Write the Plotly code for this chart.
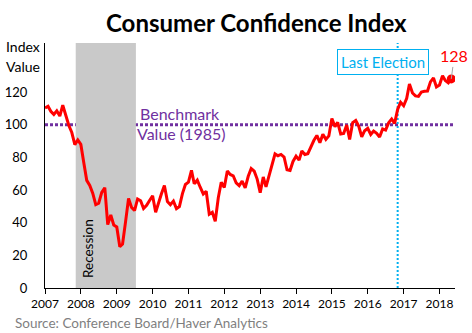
import plotly.graph_objects as go

# ---- data (Conference Board Consumer Confidence Index, monthly) ----
years = list(range(2007, 2019))
cci_2007 = [110.2, 111.2, 108.2, 106.3, 108.5, 105.3, 111.9, 105.6, 99.5, 95.2, 87.8, 90.6]
cci_2008 = [87.9, 76.4, 65.9, 62.8, 58.1, 51.0, 51.9, 58.5, 61.4, 38.8, 44.7, 38.6]
cci_2009 = [37.4, 25.3, 26.9, 40.8, 54.8, 49.3, 47.4, 54.5, 53.4, 48.7, 50.6, 53.6]
cci_2010 = [56.5, 46.4, 52.3, 57.7, 62.7, 52.9, 51.0, 53.2, 48.6, 49.9, 57.8, 63.4]
cci_2011 = [64.8, 72.0, 63.8, 66.0, 61.7, 57.6, 59.2, 45.2, 46.4, 40.9, 55.2, 64.8]
cci_2012 = [61.5, 71.6, 69.5, 68.7, 64.4, 62.7, 65.4, 61.3, 68.4, 73.1, 71.5, 66.7]
cci_2013 = [58.4, 68.0, 61.9, 69.0, 76.2, 82.1, 81.0, 81.8, 80.2, 72.4, 72.0, 77.5]
cci_2014 = [80.7, 78.3, 83.9, 81.7, 82.2, 86.4, 90.3, 93.4, 89.0, 94.1, 91.0, 93.1]
cci_2015 = [103.8, 98.8, 101.4, 94.3, 94.6, 99.8, 91.0, 101.3, 102.6, 99.1, 92.6, 96.3]
cci_2016 = [97.8, 94.0, 96.1, 94.7, 92.4, 97.4, 96.7, 101.1, 103.5, 100.8, 109.4, 113.7]
cci_2017 = [111.6, 116.1, 124.9, 119.4, 117.6, 117.3, 120.0, 120.4, 120.6, 126.2, 128.6, 123.1]
cci_2018 = [124.3, 130.0, 127.0, 125.6, 128.0]

yearly = [cci_2007, cci_2008, cci_2009, cci_2010, cci_2011, cci_2012,
          cci_2013, cci_2014, cci_2015, cci_2016, cci_2017, cci_2018]

dates = []
values = []
for yr, vals in zip(years, yearly):
    for m, v in enumerate(vals, start=1):
        dates.append(f"{yr}-{m:02d}-01")
        values.append(v)

benchmark = 100
recession_start = "2007-11-10"
recession_end = "2009-07-15"
election_date = "2016-11-01"
x_start = "2007-01-01"
x_end = "2018-06-08"
y_max = 150
y_ticks = [0, 20, 40, 60, 80, 100, 120]

FONT = "Lato, Carlito, 'Open Sans', sans-serif"
RED = "#FF0000"
PURPLE = "#7030A0"
BLUE = "#00B0F0"

# plot-area pixel geometry (for paper-coordinate annotations)
L, R, T, B = 45, 455, 43, 288
W, H = 472, 333

def px(x):
    return (x - L) / (R - L)

def py(y):
    return (B - y) / (B - T)

fig = go.Figure()

fig.add_trace(go.Scatter(
    x=dates, y=values, mode="lines",
    line=dict(color=RED, width=3),
    hoverinfo="skip", showlegend=False,
))
fig.add_trace(go.Scatter(
    x=[dates[-1]], y=[values[-1]], mode="markers",
    marker=dict(color=RED, size=9),
    hoverinfo="skip", showlegend=False,
))

shapes = [
    dict(type="rect", xref="x", yref="y", x0=recession_start, x1=recession_end,
         y0=0, y1=y_max, fillcolor="#C9C9C9", line=dict(width=0), layer="below"),
    dict(type="line", xref="x", yref="y", x0=election_date, x1=election_date,
         y0=0, y1=y_max, line=dict(color=BLUE, width=2, dash="2px,2px"), layer="below"),
    dict(type="line", xref="paper", yref="y", x0=0, x1=1, y0=benchmark, y1=benchmark,
         line=dict(color=PURPLE, width=3, dash="3px,2px"), layer="below"),
]

annotations = [
    dict(text="<b>Consumer Confidence Index</b>", xref="paper", yref="paper",
         x=px(256), y=py(22), showarrow=False, font=dict(size=24, color="black", family=FONT),
         xanchor="center", yanchor="middle"),
    dict(text="Index", xref="paper", yref="paper", x=px(4), y=py(47), showarrow=False,
         font=dict(size=14, color="black", family=FONT), xanchor="left", yanchor="middle"),
    dict(text="Value", xref="paper", yref="paper", x=px(4), y=py(66), showarrow=False,
         font=dict(size=14, color="black", family=FONT), xanchor="left", yanchor="middle"),
    dict(text="Benchmark", xref="paper", yref="paper", x=px(180), y=py(113), showarrow=False,
         font=dict(size=16, color=PURPLE, family=FONT), xanchor="center", yanchor="middle"),
    dict(text="Value (1985)", xref="paper", yref="paper", x=px(181), y=py(133), showarrow=False,
         font=dict(size=16, color=PURPLE, family=FONT), xanchor="center", yanchor="middle"),
    dict(text="Recession", xref="paper", yref="paper", x=px(88), y=py(249), showarrow=False,
         textangle=-90, font=dict(size=13.5, color="black", family=FONT),
         xanchor="center", yanchor="middle"),
    dict(text="Last Election", xref="paper", yref="paper", x=px(383), y=py(62), showarrow=False,
         font=dict(size=15, color=BLUE, family=FONT), xanchor="center", yanchor="middle",
         bgcolor="white", bordercolor=BLUE, borderwidth=1, borderpad=3),
    dict(text=f"{values[-1]:.0f}", xref="x", yref="y", x=dates[-1], y=values[-1],
         showarrow=True, arrowhead=0, arrowwidth=1, arrowcolor="#A6A6A6",
         ax=3, ay=-23, font=dict(size=16, color=RED, family=FONT)),
    dict(text="Source: Conference Board/Haver Analytics", xref="paper", yref="paper",
         x=px(13), y=py(323), showarrow=False,
         font=dict(size=13.5, color="#7F7F7F", family=FONT), xanchor="left", yanchor="middle"),
]

fig.update_layout(
    width=W, height=H,
    margin=dict(l=L, r=W - R, t=T, b=H - B, autoexpand=False),
    paper_bgcolor="white", plot_bgcolor="white",
    font=dict(family=FONT, size=12, color="black"),
    shapes=shapes, annotations=annotations,
    showlegend=False,
    xaxis=dict(
        type="date", range=[x_start, x_end], automargin=False,
        tick0="2007-01-01", dtick="M12", tickformat="%Y",
        showline=True, linecolor="black", linewidth=1,
        ticks="outside", ticklen=5, tickcolor="black",
        showgrid=False, zeroline=False,
        tickfont=dict(size=12, color="black", family=FONT),
    ),
    yaxis=dict(
        range=[0, y_max], tickvals=y_ticks, automargin=False,
        showline=True, linecolor="black", linewidth=1,
        ticks="", showgrid=False, zeroline=False,
        ticklabelstandoff=14,
        tickfont=dict(size=13, color="black", family=FONT),
    ),
)

fig.write_html("out.html")
